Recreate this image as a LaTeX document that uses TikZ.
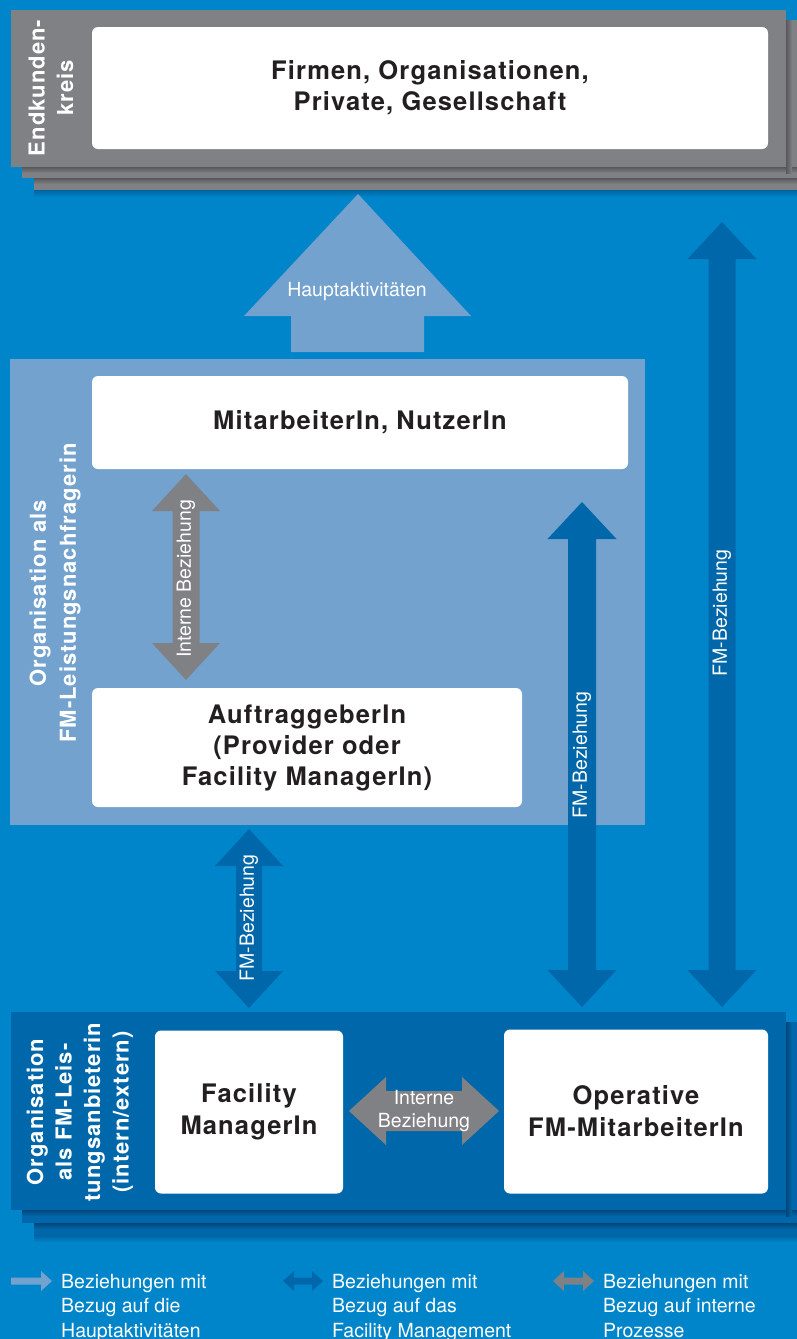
\documentclass[tikz,border=0pt]{standalone}
\usepackage{fontspec}
\setmainfont{TeX Gyre Heros}
\newfontfamily\hsp[LetterSpace=4.5]{TeX Gyre Heros}
\definecolor{bgblue}{RGB}{0,133,202}
\definecolor{bgshadow}{RGB}{0,100,160}
\definecolor{gbox}{RGB}{128,129,133}
\definecolor{gdark}{RGB}{88,88,92}
\definecolor{lblue}{RGB}{116,162,206}
\definecolor{dblue}{RGB}{0,104,170}
\definecolor{dbdark}{RGB}{0,70,120}
\definecolor{txt}{RGB}{35,31,32}
\newcommand\dblV[7]{%
  \fill[#7] (#1,#2) -- ({#1+#5},{#2+#6}) -- ({#1+#4},{#2+#6}) -- ({#1+#4},{#3-#6}) -- ({#1+#5},{#3-#6}) -- (#1,#3) -- ({#1-#5},{#3-#6}) -- ({#1-#4},{#3-#6}) -- ({#1-#4},{#2+#6}) -- ({#1-#5},{#2+#6}) -- cycle;}
\newcommand\dblH[7]{%
  \fill[#7] (#2,#1) -- ({#2+#6},{#1-#5}) -- ({#2+#6},{#1-#4}) -- ({#3-#6},{#1-#4}) -- ({#3-#6},{#1-#5}) -- (#3,#1) -- ({#3-#6},{#1+#5}) -- ({#3-#6},{#1+#4}) -- ({#2+#6},{#1+#4}) -- ({#2+#6},{#1+#5}) -- cycle;}
\begin{document}
\begin{tikzpicture}[x=1pt,y=-1pt,
  wbox/.style={fill=white, rounded corners=6pt, inner sep=0pt, text=txt, align=center,
    font=\hsp\bfseries\fontsize{25.5}{31}\selectfont},
  vlab/.style={rotate=90, text=white, align=center, inner sep=0pt,
    font=\hsp\bfseries\fontsize{22}{28.5}\selectfont},
  ltxt/.style={text=white, inner sep=0pt, font=\fontsize{19.5}{24}\selectfont},
  legtxt/.style={text=white, inner sep=0pt, align=left, anchor=north west,
    font=\fontsize{19.5}{24.5}\selectfont}]
\useasboundingbox (0,0) rectangle (797,1339);
\fill[bgblue] (0,0) rectangle (797,1339);
% ---------- top frame (Endkundenkreis) ----------
\shade[top color=bgshadow, bottom color=bgblue] (34,190) rectangle (797,197);
\fill[gbox] (34,32) rectangle (797,190);
\shade[top color=gdark, bottom color=gbox] (34,178) rectangle (797,184);
\fill[gbox] (22,20) rectangle (797,178);
\shade[top color=gdark, bottom color=gbox] (22,167) rectangle (797,173);
\shade[left color=gdark, right color=gbox] (786,20) rectangle (792,173);
\fill[gbox] (11,10) rectangle (786,167);
\node[wbox, minimum width=676pt, minimum height=122pt] (firm) at (430,88) {Firmen, Organisationen,\\Private, Gesellschaft};
\node[vlab] (endk) at (51,88) {Endkunden-\\kreis};
% ---------- Hauptaktivitaeten arrow ----------
\fill[lblue] (358,194) -- (471,316) -- (424,316) -- (424,352) -- (291,352) -- (291,316) -- (244,316) -- cycle;
\node[ltxt] (haupt) at (357,292) {Hauptaktivitäten};
% ---------- long FM arrow ----------
\dblV{722}{222}{1007}{13.5}{34.5}{37}{dblue}
\node[ltxt, rotate=90] (fm3) at (722,613) {FM-Beziehung};
% ---------- middle panel ----------
\fill[lblue] (10,359) rectangle (645,825);
\node[wbox, minimum width=536pt, minimum height=93pt] (mit) at (360,422.5) {MitarbeiterIn, NutzerIn};
\node[wbox, minimum width=430pt, minimum height=119pt] (auf) at (307,747.5) {AuftraggeberIn\\(Provider oder\\Facility ManagerIn)};
\node[vlab, font=\hsp\bfseries\fontsize{22}{30}\selectfont] (nachf) at (55,593) {Organisation als\\FM-Leistungsnachfragerin};
\dblV{186}{474}{680}{13.5}{34}{37}{gbox}
\node[ltxt, rotate=90] (intv) at (186,579) {Interne Beziehung};
\dblV{582}{502}{1007}{14}{34.5}{37}{dblue}
\node[ltxt, rotate=90] (fm2) at (582,755) {FM-Beziehung};
\dblV{249}{829}{1008}{13}{34}{37}{dblue}
\node[ltxt, rotate=90] (fm1) at (249,918) {FM-Beziehung};
% ---------- bottom frame ----------
\shade[top color=bgshadow, bottom color=bgblue] (34,1235) rectangle (797,1242);
\fill[dblue] (34,1034) rectangle (797,1235);
\shade[top color=dbdark, bottom color=dblue] (34,1223) rectangle (797,1229);
\fill[dblue] (22,1022) rectangle (797,1223);
\shade[top color=dbdark, bottom color=dblue] (22,1210) rectangle (797,1216);
\shade[left color=dbdark, right color=dblue] (786,1022) rectangle (792,1216);
\fill[dblue] (11,1012) rectangle (786,1210);
\node[wbox, minimum width=188pt, minimum height=163pt, font=\hsp\bfseries\fontsize{25.5}{32}\selectfont] (fac) at (249,1112) {Facility\\ManagerIn};
\node[wbox, minimum width=264pt, minimum height=164pt, font=\hsp\bfseries\fontsize{25.5}{32}\selectfont] (op) at (636,1111.5) {Operative\\FM-MitarbeiterIn};
\node[vlab] (anb) at (80,1112) {Organisation\\als FM-Leis-\\tungsanbieterin\\(intern/extern)};
\dblH{1111}{349}{499}{20}{34}{37}{gbox}
\node[ltxt, align=center, font=\fontsize{19.5}{23.5}\selectfont] (inth) at (424,1111) {Interne\\Beziehung};
% ---------- legend ----------
\fill[lblue] (11,1277.5) -- (41,1277.5) -- (41,1271) -- (52,1281) -- (41,1291) -- (41,1284.5) -- (11,1284.5) -- cycle;
\node[legtxt] (leg1) at (61,1274) {Beziehungen mit\\Bezug auf die\\Hauptaktivitäten};
\dblH{1281}{283}{323}{3.5}{10}{11}{dblue}
\node[legtxt] (leg2) at (332,1274) {Beziehungen mit\\Bezug auf das\\Facility Management};
\dblH{1281}{553}{594}{3.5}{10}{11}{gbox}
\node[legtxt] (leg3) at (603,1274) {Beziehungen mit\\Bezug auf interne\\Prozesse};
\end{tikzpicture}
\end{document}
